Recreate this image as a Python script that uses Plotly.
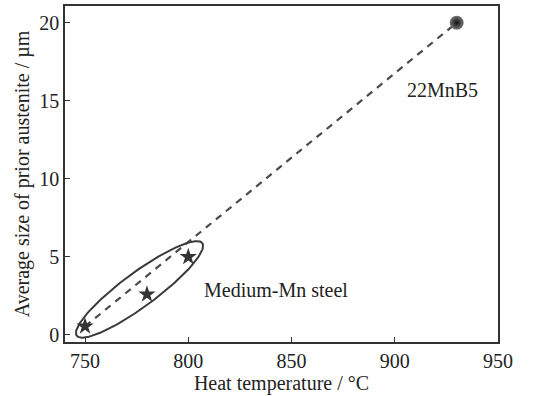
import numpy as np
import plotly.graph_objects as go

# Data
mn_temp = [750, 780, 800]
mn_size = [0.55, 2.6, 5.0]
b_temp = [930]
b_size = [20.0]
fit_temp = [750, 930]
fit_size = [0.55, 20.0]
x_ticks = [750, 800, 850, 900, 950]
y_ticks = [0, 5, 10, 15, 20]

XR = [740.3, 950]
YR = [-0.45, 21.07]
L, R, T, B = 65, 53, 6, 54
W, H = 551, 396
sx = (W - L - R) / (XR[1] - XR[0])   # px per degC
sy = (H - T - B) / (YR[1] - YR[0])   # px per um

# ellipse (centre in data units, axes in px)
cx, cy = 776.4, 2.92
a_px, b_px, ang = 78, 17, np.deg2rad(36.4)
t = np.linspace(0, 2 * np.pi, 200)
ex_px = a_px * np.cos(t) * np.cos(ang) - b_px * np.sin(t) * np.sin(ang)
ey_px = a_px * np.cos(t) * np.sin(ang) + b_px * np.sin(t) * np.cos(ang)
ell_x = cx + ex_px / sx
ell_y = cy + ey_px / sy

FONT = "Liberation Serif, Times New Roman, serif"

fig = go.Figure()
fig.add_trace(go.Scatter(x=fit_temp, y=fit_size, mode="lines",
                         line=dict(color="#4a4a4a", width=2.2, dash="7px,6px"),
                         hoverinfo="skip", showlegend=False))
fig.add_trace(go.Scatter(x=ell_x, y=ell_y, mode="lines",
                         line=dict(color="#3a3a3a", width=2), hoverinfo="skip",
                         showlegend=False))
fig.add_trace(go.Scatter(x=mn_temp, y=mn_size, mode="markers",
                         marker=dict(symbol="star", size=13, color="#333333",
                                     line=dict(width=0)), showlegend=False))
fig.add_trace(go.Scatter(x=b_temp, y=b_size, mode="markers",
                         marker=dict(symbol="circle", size=14, color="#777777",
                                     gradient=dict(type="radial", color="#111111"),
                                     line=dict(width=0)), showlegend=False))

fig.add_annotation(x=923.2, y=15.66, text="22MnB5", showarrow=False,
                   font=dict(size=20, color="#222", family=FONT))
fig.add_annotation(x=842.4, y=2.88, text="Medium-Mn steel", showarrow=False,
                   font=dict(size=20, color="#222", family=FONT))

axis_common = dict(showgrid=False, zeroline=False, showline=True, mirror=True,
                   linecolor="#333", linewidth=1.5, ticks="inside", ticklen=5,
                   tickwidth=1.2, tickcolor="#333", automargin=False,
                   tickfont=dict(size=20, color="#222", family=FONT))
fig.update_xaxes(range=XR, tickvals=x_ticks,
                 title=dict(text="Heat temperature / °C", font=dict(size=20, color="#222", family=FONT), standoff=2),
                 **axis_common)
fig.update_yaxes(range=YR, tickvals=y_ticks,
                 title=dict(text="Average size of prior austenite / µm", font=dict(size=20, color="#222", family=FONT), standoff=4),
                 **axis_common)
fig.update_layout(width=W, height=H, margin=dict(l=L, r=R, t=T, b=B),
                  plot_bgcolor="white", paper_bgcolor="white",
                  font=dict(family=FONT), hovermode=False)
fig.write_html("out.html", config={"displayModeBar": False},
               post_script="document.body.style.margin='0px';document.body.style.overflow='hidden';")
